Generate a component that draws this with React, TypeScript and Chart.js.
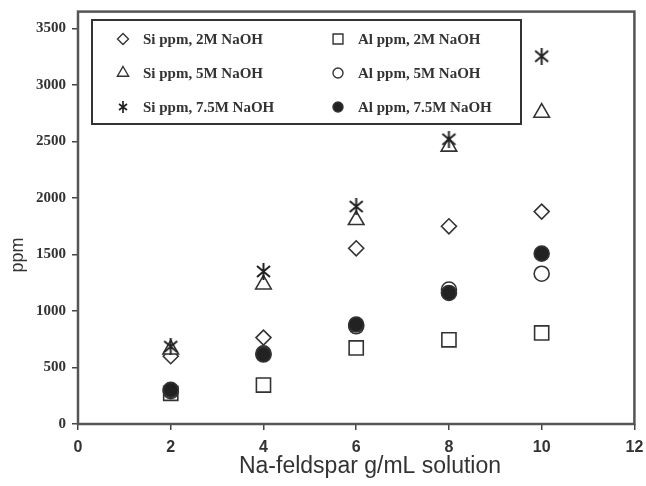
import React, { useEffect, useRef } from "react";
import { Chart, registerables } from "chart.js";
import { drawPoint } from "chart.js/helpers";

Chart.register(...registerables);

// ---- data ----
const xValues = [2, 4, 6, 8, 10];
const si2M = [600, 765, 1555, 1750, 1880];
const si5M = [660, 1235, 1805, 2455, 2755];
const si75M = [685, 1350, 1925, 2520, 3255];
const al2M = [272, 345, 673, 745, 806];
const al5M = [290, 625, 865, 1190, 1330];
const al75M = [302, 615, 880, 1160, 1508];

const yTicks = [0, 500, 1000, 1500, 2000, 2500, 3000, 3500];
const xTicks = [0, 2, 4, 6, 8, 10, 12];

const seriesLabels = [
  "Si ppm, 2M NaOH",
  "Si ppm, 5M NaOH",
  "Si ppm, 7.5M NaOH",
  "Al ppm, 2M NaOH",
  "Al ppm, 5M NaOH",
  "Al ppm, 7.5M NaOH",
];
const xTitle = "Na-feldspar g/mL solution";
const yTitle = "ppm";

const INK = "#333";

function makeAsterisk(size: number, lw: number): HTMLCanvasElement {
  const c = document.createElement("canvas");
  c.width = size;
  c.height = size;
  const ctx = c.getContext("2d")!;
  ctx.strokeStyle = "#222";
  ctx.lineWidth = lw;
  ctx.lineCap = "butt";
  const m = 2;
  const h = size / 2;
  ctx.beginPath();
  ctx.moveTo(m, m + 1);
  ctx.lineTo(size - m, size - m - 1);
  ctx.moveTo(size - m, m + 1);
  ctx.lineTo(m, size - m - 1);
  ctx.moveTo(h, 0);
  ctx.lineTo(h, size);
  ctx.stroke();
  return c;
}

export default function App() {
  const ref = useRef<HTMLCanvasElement | null>(null);

  useEffect(() => {
    document.body.style.margin = "0";
    const canvas = ref.current;
    if (!canvas) return;

    const star = makeAsterisk(17, 2);
    const starSmall = makeAsterisk(12, 1.7);

    const pts = (ys: number[]) => xValues.map((x, i) => ({ x, y: ys[i] }));

    const styles: any[] = [
      { style: "rectRot", radius: 7.5, fill: "#fff", legendRadius: 5.5 },
      { style: "triangle", radius: 9, fill: "#fff", legendRadius: 6.5 },
      { style: star, radius: 8, fill: "#fff", legendStyle: starSmall, legendRadius: 5 },
      { style: "rect", radius: 10, fill: "#fff", legendRadius: 7 },
      { style: "circle", radius: 7.5, fill: "#fff", legendRadius: 5 },
      { style: "circle", radius: 7.5, fill: "#222", legendRadius: 5 },
    ];
    const values = [si2M, si5M, si75M, al2M, al5M, al75M];
    const orders = [3, 2, 1, 6, 5, 4];

    const datasets = values.map((v, i) => ({
      label: seriesLabels[i],
      data: pts(v),
      showLine: false,
      pointStyle: styles[i].style,
      pointRadius: styles[i].radius,
      pointBackgroundColor: styles[i].fill,
      pointBorderColor: INK,
      pointBorderWidth: 1.6,
      order: orders[i],
    }));

    const framePlugin = {
      id: "frameAndLegend",
      afterDraw(chart: any) {
        const { ctx, chartArea } = chart;
        ctx.save();
        // frame
        ctx.strokeStyle = "#555";
        ctx.lineWidth = 2.5;
        ctx.strokeRect(
          chartArea.left,
          chartArea.top,
          chartArea.right - chartArea.left,
          chartArea.bottom - chartArea.top
        );
        // legend box
        ctx.strokeStyle = INK;
        ctx.lineWidth = 2;
        ctx.fillStyle = "#fff";
        ctx.fillRect(92, 20, 429, 104);
        ctx.strokeRect(92, 20, 429, 104);
        const colX = [123, 338];
        const rowY = [39, 73, 107];
        ctx.font = "bold 15px 'Liberation Serif', 'Times New Roman', serif";
        ctx.textBaseline = "middle";
        ctx.textAlign = "left";
        for (let i = 0; i < 6; i++) {
          const col = Math.floor(i / 3);
          const row = i % 3;
          const s = styles[i];
          ctx.strokeStyle = INK;
          ctx.fillStyle = s.fill;
          ctx.lineWidth = 1.4;
          drawPoint(
            ctx,
            { pointStyle: s.legendStyle || s.style, radius: s.legendRadius, borderWidth: 1.4, rotation: 0 } as any,
            colX[col],
            rowY[row]
          );
          ctx.fillStyle = INK;
          ctx.fillText(seriesLabels[i], colX[col] + 20, rowY[row] + 1);
        }
        // axis titles
        ctx.fillStyle = INK;
        ctx.font = "23px 'Liberation Sans', Arial, sans-serif";
        ctx.textAlign = "center";
        ctx.textBaseline = "middle";
        ctx.fillText(xTitle, 370, 467);
        ctx.save();
        ctx.translate(18, 255);
        ctx.rotate(-Math.PI / 2);
        ctx.font = "18px 'Liberation Sans', Arial, sans-serif";
        ctx.fillText(yTitle, 0, 0);
        ctx.restore();
        ctx.restore();
      },
    };

    const chart = new Chart(canvas, {
      type: "scatter",
      data: { datasets } as any,
      options: {
        animation: false,
        responsive: false,
        maintainAspectRatio: false,
        layout: { padding: { top: 11, right: 10, left: 0, bottom: 0 } },
        plugins: {
          legend: { display: false },
          tooltip: { enabled: false },
        },
        scales: {
          x: {
            type: "linear",
            min: 0,
            max: 12,
            afterBuildTicks: (s: any) => {
              s.ticks = xTicks.map((v) => ({ value: v }));
            },
            afterFit: (s: any) => {
              s.height = 62;
              s.paddingLeft = 0;
              s.paddingRight = 0;
            },
            grid: {
              drawOnChartArea: false,
              drawTicks: true,
              tickLength: 6,
              color: "#444",
              lineWidth: 1.5,
            },
            border: { display: false },
            ticks: {
              color: INK,
              padding: 8,
              maxRotation: 0,
              callback: (v: any) => String(v),
              font: { family: "'Liberation Sans', Arial, sans-serif", size: 16, weight: "bold" },
            },
          },
          y: {
            type: "linear",
            min: 0,
            max: 3650,
            afterBuildTicks: (s: any) => {
              s.ticks = yTicks.map((v) => ({ value: v }));
            },
            afterFit: (s: any) => {
              s.width = 78;
              s.paddingTop = 0;
              s.paddingBottom = 0;
            },
            grid: {
              drawOnChartArea: false,
              drawTicks: true,
              tickLength: 6,
              color: "#444",
              lineWidth: 1.5,
            },
            border: { display: false },
            ticks: {
              color: INK,
              padding: 6,
              callback: (v: any) => String(v),
              font: { family: "'Liberation Serif', 'Times New Roman', serif", size: 15, weight: "bold" },
            },
          },
        },
      },
      plugins: [framePlugin],
    } as any);

    return () => chart.destroy();
  }, []);

  return (
    <div style={{ width: 646, height: 486 }}>
      <canvas ref={ref} width={646} height={486} style={{ display: "block" }} />
    </div>
  );
}
